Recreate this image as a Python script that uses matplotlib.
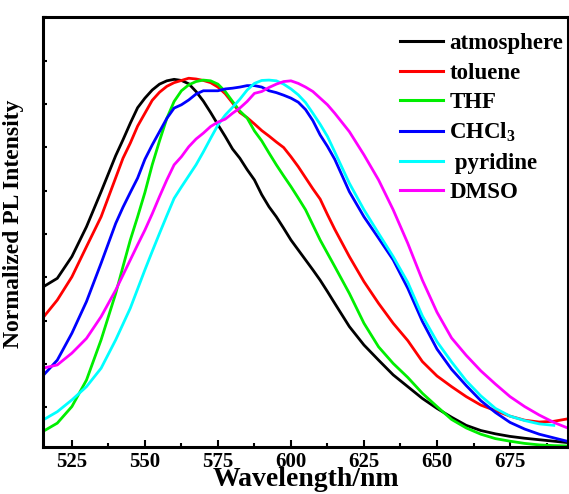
import numpy as np
import matplotlib
matplotlib.use("Agg")
from matplotlib import pyplot as plt

# emission wavelengths (nm): finer sampling around the maxima
wavelength = [515, 520, 525, 530, 535, 540, 542.5, 545, 547.5, 550, 552.5, 555,
	557.5, 560, 562.5, 565, 567.5, 570, 572.5, 575, 577.5, 580, 582.5, 585,
	587.5, 590, 592.5, 595, 597.5, 600, 602.5, 605, 607.5, 610, 612.5, 615,
	620, 625, 630, 635, 640, 645, 650, 655, 660, 665, 670, 675, 680, 685, 690, 695]
# the pyridine scan stops at 690 nm
wavelength_pyridine = wavelength[:-1]

# normalized PL spectra, one per medium
atmosphere = [0.433, 0.457, 0.516, 0.597, 0.692, 0.790, 0.833, 0.878, 0.920, 0.946,
	0.968, 0.984, 0.993, 0.997, 0.994, 0.985, 0.964, 0.938, 0.907, 0.874,
	0.842, 0.808, 0.783, 0.752, 0.724, 0.684, 0.651, 0.624, 0.593, 0.561,
	0.534, 0.507, 0.480, 0.452, 0.421, 0.389,
	0.326, 0.276, 0.235, 0.195, 0.163, 0.131, 0.104, 0.080, 0.058, 0.044,
	0.035, 0.028, 0.023, 0.019, 0.015, 0.011]
toluene = [0.349, 0.398, 0.461, 0.543, 0.624, 0.730, 0.783, 0.824, 0.870, 0.905,
	0.940, 0.962, 0.978, 0.988, 0.994, 1.000, 0.998, 0.994, 0.988, 0.976,
	0.958, 0.933, 0.907, 0.893, 0.876, 0.858, 0.843, 0.827, 0.812, 0.787,
	0.760, 0.730, 0.700, 0.672, 0.630, 0.590,
	0.516, 0.448, 0.389, 0.335, 0.288, 0.231, 0.192, 0.163, 0.136, 0.113,
	0.098, 0.083, 0.072, 0.067, 0.069, 0.076]
thf = [0.041, 0.064, 0.109, 0.181, 0.290, 0.416, 0.489, 0.561, 0.624, 0.690,
	0.765, 0.830, 0.891, 0.937, 0.966, 0.982, 0.991, 0.995, 0.993, 0.984,
	0.964, 0.937, 0.911, 0.892, 0.857, 0.830, 0.797, 0.765, 0.735, 0.706,
	0.675, 0.643, 0.602, 0.561, 0.525, 0.489,
	0.416, 0.335, 0.271, 0.226, 0.188, 0.145, 0.109, 0.074, 0.051, 0.034,
	0.022, 0.015, 0.009, 0.005, 0.003, 0.002]
chcl3 = [0.192, 0.235, 0.308, 0.394, 0.498, 0.606, 0.650, 0.690, 0.729, 0.780,
	0.819, 0.855, 0.891, 0.919, 0.928, 0.941, 0.957, 0.966, 0.966, 0.966,
	0.971, 0.973, 0.976, 0.980, 0.980, 0.976, 0.966, 0.961, 0.954, 0.946,
	0.935, 0.915, 0.885, 0.846, 0.815, 0.780,
	0.692, 0.624, 0.566, 0.507, 0.430, 0.340, 0.265, 0.210, 0.166, 0.125,
	0.093, 0.066, 0.048, 0.034, 0.024, 0.014]
pyridine = [0.072, 0.095, 0.127, 0.163, 0.213, 0.290, 0.333, 0.376, 0.428, 0.480,
	0.530, 0.579, 0.627, 0.674, 0.705, 0.735, 0.765, 0.800, 0.837, 0.873,
	0.900, 0.921, 0.943, 0.968, 0.986, 0.994, 0.995, 0.993, 0.984, 0.971,
	0.955, 0.934, 0.905, 0.875, 0.842, 0.800,
	0.715, 0.643, 0.579, 0.516, 0.446, 0.355, 0.285, 0.230, 0.179, 0.138,
	0.104, 0.083, 0.071, 0.062, 0.058]
dmso = [0.213, 0.222, 0.254, 0.294, 0.353, 0.425, 0.466, 0.507, 0.548, 0.588,
	0.632, 0.679, 0.724, 0.765, 0.787, 0.814, 0.835, 0.851, 0.869, 0.881,
	0.889, 0.905, 0.919, 0.937, 0.959, 0.964, 0.975, 0.984, 0.991, 0.993,
	0.986, 0.976, 0.964, 0.946, 0.928, 0.905,
	0.855, 0.792, 0.724, 0.643, 0.552, 0.452, 0.365, 0.295, 0.248, 0.206,
	0.170, 0.136, 0.109, 0.086, 0.066, 0.050]

labels = ['atmosphere', 'toluene', 'THF', 'CHCl$_3$', ' pyridine', 'DMSO']
colors = ['#000000', '#ff0000', '#00ee00', '#0000ff', '#00ffff', '#ff00ff']
xticks = [525, 550, 575, 600, 625, 650, 675]


def main():
	plt.rcParams['font.family'] = ['Liberation Serif', 'DejaVu Serif']
	plt.rcParams['font.weight'] = 'bold'
	plt.rcParams['mathtext.fontset'] = 'custom'
	plt.rcParams['mathtext.rm'] = 'Liberation Serif:bold'
	plt.rcParams['mathtext.default'] = 'rm'

	fig = plt.figure(figsize=(5.69, 4.94), dpi=100)
	ax = fig.add_axes([0.075, 0.0957, 0.924, 0.869])

	series = [(wavelength, atmosphere), (wavelength, toluene), (wavelength, thf),
		(wavelength, chcl3), (wavelength_pyridine, pyridine), (wavelength, dmso)]
	for (x, y), label, color in zip(series, labels, colors):
		ax.plot(x, y, color=color, lw=2.0, label=label)

	ax.set_xlim(515, 695)
	ax.set_ylim(0, 1.165)

	# ticks point inward, y axis has no numbers
	ax.set_xticks(xticks)
	ax.set_xticks(np.arange(537.5, 695, 25), minor=True)
	ax.set_yticks(np.arange(1.165, 0, -0.1175))
	ax.set_yticklabels([])
	ax.tick_params(axis='both', which='both', direction='in', width=1.5)
	ax.tick_params(axis='x', which='major', length=5, pad=4, labelsize=15)
	ax.tick_params(axis='x', which='minor', length=3)
	ax.tick_params(axis='y', length=3)
	for lab in ax.get_xticklabels():
		lab.set_fontweight('bold')
	for spine in ax.spines.values():
		spine.set_linewidth(2.2)

	ax.set_xlabel('Wavelength/nm', fontsize=20, fontweight='bold', labelpad=-4)
	ax.set_ylabel('Normalized PL Intensity', fontsize=17, fontweight='bold')
	ax.yaxis.set_label_coords(-0.036, 0.52)

	leg = ax.legend(loc='upper left', bbox_to_anchor=(0.68, 0.963), frameon=False,
		fontsize=16.5, handlelength=1.85, handletextpad=0.3, labelspacing=0.36,
		borderpad=0, borderaxespad=0)
	for line in leg.get_lines():
		line.set_linewidth(2.2)

	fig.savefig('out.png', dpi=100)


if __name__ == '__main__':
	main()
